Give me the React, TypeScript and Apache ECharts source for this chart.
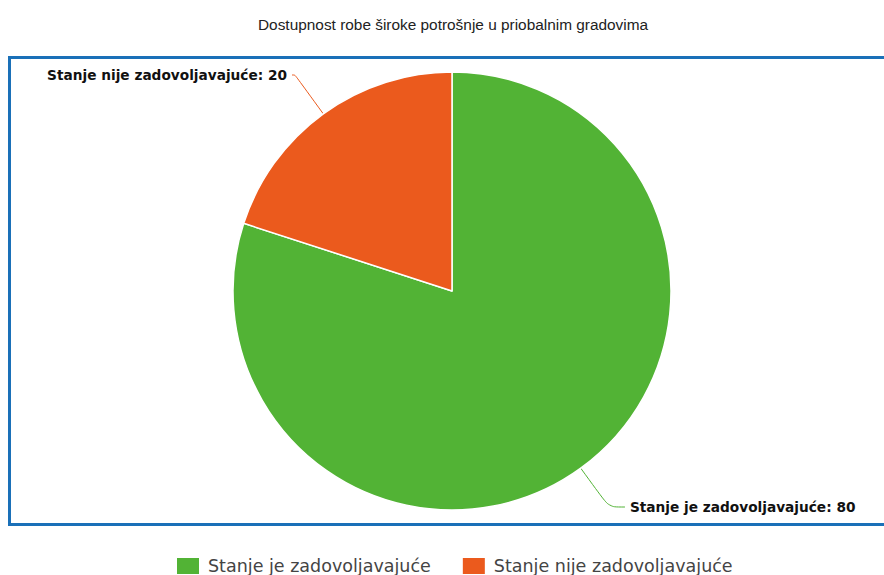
import React, { useEffect, useRef } from "react";
import * as echarts from "echarts";

const titleText = "Dostupnost robe široke potrošnje u priobalnim gradovima";
const categories = ["Stanje je zadovoljavajuće", "Stanje nije zadovoljavajuće"];
const values = [80, 20];
const colors = ["#52b335", "#eb5a1d"];

export default function App() {
  const ref = useRef<HTMLDivElement>(null);
  useEffect(() => {
    if (!ref.current) return;
    const chart = echarts.init(ref.current, undefined, { renderer: "svg" });
    chart.setOption({
      animation: false,
      backgroundColor: "#ffffff",
      title: {
        text: titleText,
        left: 253,
        top: 12,
        textStyle: {
          fontFamily: "Liberation Sans, Arial, sans-serif",
          fontSize: 15.4,
          fontWeight: "normal",
          color: "#222",
        },
      },
      graphic: [
        {
          type: "rect",
          shape: { x: 9.5, y: 57.5, width: 900, height: 467 },
          style: { fill: "none", stroke: "#1a70b8", lineWidth: 3 },
          silent: true,
        },
      ],
      legend: {
        data: categories,
        left: 170,
        top: 551,
        itemWidth: 24,
        itemHeight: 18,
        itemGap: 30,
        icon: "rect",
        textStyle: {
          fontFamily: "DejaVu Sans, Verdana, sans-serif",
          fontSize: 17.5,
          color: "#444",
          padding: [0, 0, 0, 3],
        },
      },
      series: [
        {
          type: "pie",
          center: [452, 291],
          radius: 219,
          startAngle: 90,
          clockwise: true,
          data: categories.map((c, i) => ({
            name: c,
            value: values[i],
            itemStyle: { color: colors[i] },
            labelLine: { length2: i === 0 ? 16 : 3 },
          })),
          itemStyle: { borderColor: "#ffffff", borderWidth: 1.5 },
          label: {
            show: true,
            formatter: "{b}: {c}",
            fontFamily: "DejaVu Sans, Verdana, sans-serif",
            fontWeight: "bold",
            fontSize: 13.7,
            color: "#111",
          },
          labelLine: {
            show: true,
            length: 48,
            length2: 8,
            smooth: true,
            lineStyle: { width: 1 },
          },
          emphasis: { disabled: true },
        },
      ],
    });
    return () => chart.dispose();
  }, []);
  return (
    <div
      ref={ref}
      style={{ position: "fixed", left: 0, top: 0, width: 884, height: 575 }}
    />
  );
}
